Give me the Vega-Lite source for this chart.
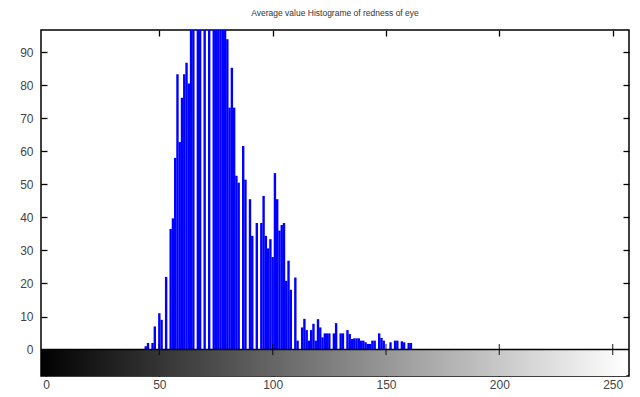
{
  "$schema": "https://vega.github.io/schema/vega-lite/v6.json",
  "width": 588,
  "height": 346,
  "autosize": {"type": "none"},
  "padding": {"left": 41, "top": 30, "right": 11, "bottom": 21},
  "background": "white",
  "config": {
    "view": {"stroke": "black", "strokeWidth": 1.5},
    "font": "Liberation Sans",
    "axis": {"grid": false, "domain": false, "zindex": 2, "tickColor": "black", "tickWidth": 1.3, "tickSize": 6, "offset": -6, "labelColor": "#444", "labelFontSize": 12, "labelFont": "Liberation Sans"},
    "title": {"fontSize": 8.5, "fontWeight": "normal", "color": "#333", "font": "Liberation Sans", "offset": 12}
  },
  "title": "Average value Histograme of redness of eye",
  "datasets": {
    "hist": [
      {"v": 44, "c": 1}, {"v": 45, "c": 2}, {"v": 47, "c": 2}, {"v": 48, "c": 7},
      {"v": 50, "c": 11}, {"v": 51, "c": 9}, {"v": 53, "c": 22}, {"v": 55, "c": 36.5},
      {"v": 56, "c": 39.7}, {"v": 57, "c": 58}, {"v": 58, "c": 83.3}, {"v": 59, "c": 62.8},
      {"v": 60, "c": 76.2}, {"v": 61, "c": 83.3}, {"v": 62, "c": 86.8}, {"v": 63, "c": 80.5},
      {"v": 64, "c": 105}, {"v": 65, "c": 112}, {"v": 67, "c": 118}, {"v": 68, "c": 125},
      {"v": 70, "c": 130}, {"v": 72, "c": 128}, {"v": 74, "c": 122}, {"v": 75, "c": 119},
      {"v": 76, "c": 114}, {"v": 77, "c": 108}, {"v": 78, "c": 103}, {"v": 79, "c": 98},
      {"v": 80, "c": 93.9}, {"v": 81, "c": 73.2}, {"v": 82, "c": 85.3}, {"v": 83, "c": 73.2},
      {"v": 84, "c": 52.6}, {"v": 85, "c": 50.5}, {"v": 87, "c": 61.6}, {"v": 88, "c": 51.4},
      {"v": 90, "c": 45.5}, {"v": 91, "c": 34.4}, {"v": 93, "c": 38.3}, {"v": 95, "c": 38.3},
      {"v": 96, "c": 46.5}, {"v": 97, "c": 34.4}, {"v": 98, "c": 30.6}, {"v": 99, "c": 33.4},
      {"v": 100, "c": 28}, {"v": 101, "c": 53.4}, {"v": 102, "c": 45.5}, {"v": 103, "c": 36},
      {"v": 104, "c": 37.7}, {"v": 105, "c": 38.3}, {"v": 106, "c": 20.8}, {"v": 107, "c": 26.9},
      {"v": 108, "c": 18.1}, {"v": 110, "c": 21.8}, {"v": 111, "c": 2.7}, {"v": 113, "c": 6.7},
      {"v": 114, "c": 9.3}, {"v": 115, "c": 5.9}, {"v": 116, "c": 2.7}, {"v": 117, "c": 5.9},
      {"v": 118, "c": 7.8}, {"v": 119, "c": 2.7}, {"v": 120, "c": 9.2}, {"v": 121, "c": 6.7},
      {"v": 122, "c": 3.7}, {"v": 123, "c": 4.9}, {"v": 124, "c": 4.9}, {"v": 125, "c": 4.9},
      {"v": 127, "c": 4.9}, {"v": 128, "c": 8}, {"v": 130, "c": 4.9}, {"v": 131, "c": 4.9},
      {"v": 133, "c": 5.9}, {"v": 134, "c": 4.7}, {"v": 135, "c": 3.2}, {"v": 136, "c": 3.4},
      {"v": 137, "c": 3.4}, {"v": 138, "c": 3.4}, {"v": 139, "c": 2.7}, {"v": 140, "c": 2.7},
      {"v": 141, "c": 2.2}, {"v": 142, "c": 1.7}, {"v": 143, "c": 1.7}, {"v": 144, "c": 2.7},
      {"v": 145, "c": 2.7}, {"v": 147, "c": 4.9}, {"v": 148, "c": 3.5}, {"v": 149, "c": 2.7},
      {"v": 152, "c": 2.2}, {"v": 154, "c": 2.7}, {"v": 155, "c": 2.7}, {"v": 157, "c": 2.5},
      {"v": 158, "c": 2.2}, {"v": 160, "c": 2}, {"v": 161, "c": 2}
    ],
    "ticks": [{"t": 50}, {"t": 100}, {"t": 150}, {"t": 200}, {"t": 250}]
  },
  "layer": [
    {
      "data": {"values": [{}]},
      "mark": {"type": "rect", "clip": true, "color": {"gradient": "linear", "x1": 0, "x2": 1, "y1": 0, "y2": 0, "stops": [{"offset": 0, "color": "#000000"}, {"offset": 1, "color": "#ffffff"}]}},
      "encoding": {
        "x": {"datum": -3, "type": "quantitative", "axis": null, "scale": {"domain": [0, 255], "nice": false, "zero": false}},
        "x2": {"datum": 256},
        "y": {"datum": -9, "type": "quantitative", "axis": null, "scale": {"domain": [-8, 96.7], "nice": false, "zero": false}},
        "y2": {"datum": 0}
      }
    },
    {
      "data": {"name": "hist"},
      "mark": {"type": "bar", "color": "#0000ff", "width": 2.4, "clip": true},
      "encoding": {
        "x": {"field": "v", "type": "quantitative", "title": null, "scale": {"domain": [0, 255], "nice": false, "zero": false},
              "axis": {"orient": "bottom", "values": [0, 50, 100, 150, 200, 250], "labelPadding": 3}},
        "y": {"field": "c", "type": "quantitative", "title": null, "scale": {"domain": [-8, 96.7], "nice": false, "zero": false},
              "axis": {"orient": "left", "values": [0, 10, 20, 30, 40, 50, 60, 70, 80, 90], "labelPadding": 8}}
      }
    },
    {
      "data": {"values": [{}]},
      "mark": {"type": "rule", "color": "black", "strokeWidth": 1.5},
      "encoding": {"y": {"datum": 0, "type": "quantitative", "axis": null}}
    },
    {
      "data": {"name": "ticks"},
      "mark": {"type": "tick", "orient": "vertical", "color": "black", "size": 11, "thickness": 1.3},
      "encoding": {
        "x": {"field": "t", "type": "quantitative", "axis": null},
        "y": {"datum": 0, "type": "quantitative", "axis": null}
      }
    },
    {
      "data": {"name": "hist"},
      "mark": {"type": "point", "opacity": 0, "clip": true},
      "encoding": {
        "x": {"field": "v", "type": "quantitative", "title": null,
              "axis": {"orient": "top", "values": [50, 100, 150, 200, 250], "labels": false}},
        "y": {"field": "c", "type": "quantitative", "title": null,
              "axis": {"orient": "right", "values": [10, 20, 30, 40, 50, 60, 70, 80, 90], "labels": false}}
      }
    }
  ],
  "resolve": {"axis": {"x": "independent", "y": "independent"}}
}
